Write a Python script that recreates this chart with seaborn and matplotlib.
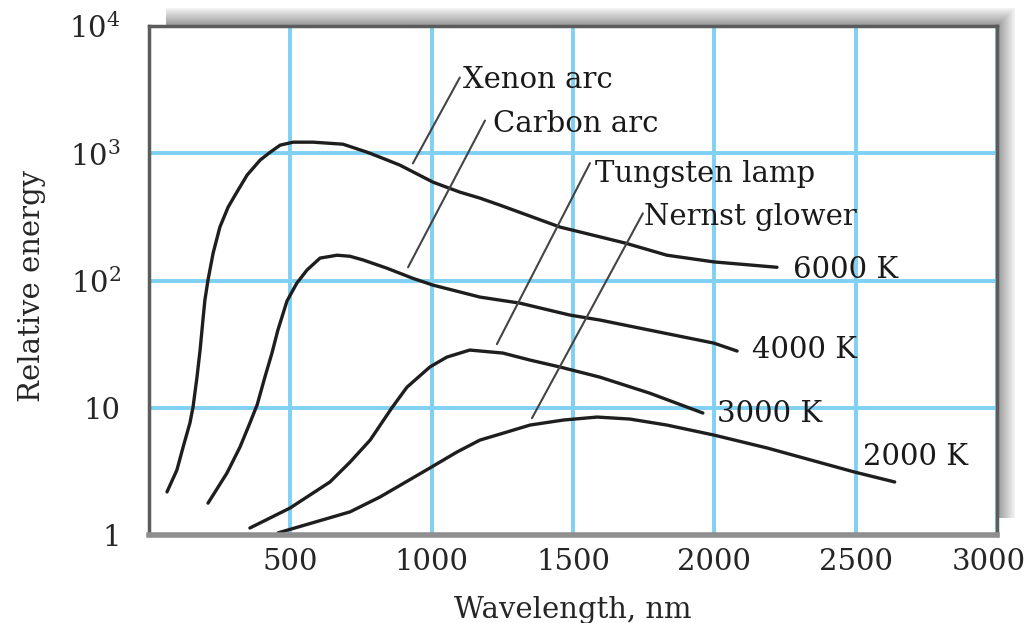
import numpy as np
import pandas as pd
import matplotlib
matplotlib.use("Agg")
import matplotlib.pyplot as plt
from matplotlib.patches import Rectangle
from matplotlib.ticker import FixedLocator, NullLocator
from matplotlib.transforms import ScaledTranslation
import seaborn as sns

# =========================
# DATA
# =========================
xenon_x = [65, 100, 122, 146, 157, 171, 182, 192, 199, 210, 228, 252, 281, 312, 348, 394, 430,
           465, 511, 581, 687, 772, 818, 888, 1005, 1100, 1171, 1242, 1454, 1684, 1832, 1998, 2221]
xenon_y = [2.18, 3.24, 4.91, 7.58, 10.1, 17.4, 28.4, 48.9, 70.2, 101, 164, 263, 377, 495, 673, 883, 1020,
           1158, 1222, 1222, 1178, 1020, 931, 807, 593, 495, 444, 391, 263, 197, 158, 140, 127]

carbon_x = [210, 277, 323, 358, 384, 411, 436, 457, 489, 524, 560, 606, 666, 712, 758, 842,
            934, 1005, 1171, 1312, 1489, 1595, 1701, 1998, 2080]
carbon_y = [1.78, 3.07, 4.91, 7.58, 10.6, 17.4, 26.9, 40.8, 68.9, 95.4, 121, 150, 158, 155, 145, 125,
            104, 92, 74.1, 66.4, 53.5, 48.9, 43.8, 32.2, 27.9]

tungsten_x = [358, 500, 641, 712, 783, 860, 913, 994, 1054, 1135, 1252, 1348, 1454, 1595, 1772, 1959]
tungsten_y = [1.135, 1.63, 2.61, 3.74, 5.57, 10.0, 14.5, 20.9, 25.0, 28.4, 26.9, 23.7, 20.9, 17.4, 13.0, 9.09]

nernst_x = [458, 712, 818, 994, 1090, 1171, 1266, 1348, 1465, 1585, 1701, 1832, 1998, 2186, 2496, 2637]
nernst_y = [1.04, 1.52, 1.99, 3.36, 4.49, 5.57, 6.44, 7.31, 8.00, 8.45, 8.15, 7.31, 6.10, 4.83, 3.12, 2.61]

x_ticks = [500, 1000, 1500, 2000, 2500, 3000]
x_tick_labels = ["500", "1000", "1500", "2000", "2500", "3000"]
y_ticks = [1, 10, 100, 1000, 10000]
y_tick_labels = ["1", "10", "$10^2$", "$10^3$", "$10^4$"]

# =========================
# STYLE
# =========================
sns.set_style("white")
plt.rcParams["font.family"] = ["DejaVu Serif"]
plt.rcParams["mathtext.fontset"] = "dejavuserif"

W, H = 1029, 623
fig = plt.figure(figsize=(W / 100, H / 100), dpi=100)
left, right, top, bottom = 148.6, 997.4, 26, 535
ax = fig.add_axes([left / W, 1 - bottom / H, (right - left) / W, (bottom - top) / H])

# drop shadow behind the frame (top and right)
for i, s in enumerate(range(18, 0, -1)):
    g = 0.95 - 0.36 * i / 17
    fig.add_artist(Rectangle((166 / W, 1 - 518 / H), (right + s - 166) / W, (518 - (top - s)) / H,
                             transform=fig.transFigure, facecolor=(g, g, g), edgecolor="none", zorder=-5))

# =========================
# CURVES
# =========================
curve_kw = dict(color="#1e1e1e", linewidth=2.4, sort=False, estimator=None, ax=ax,
                solid_joinstyle="round", solid_capstyle="round")
sns.lineplot(x=xenon_x, y=xenon_y, **curve_kw)
sns.lineplot(x=carbon_x, y=carbon_y, **curve_kw)
sns.lineplot(x=tungsten_x, y=tungsten_y, **curve_kw)
sns.lineplot(x=nernst_x, y=nernst_y, **curve_kw)

ax.set_yscale("log")
ax.set_xlim(0, 3000)
ax.set_ylim(1, 10000)
ax.xaxis.set_major_locator(FixedLocator(x_ticks))
ax.set_xticklabels(x_tick_labels)
ax.yaxis.set_major_locator(FixedLocator(y_ticks))
ax.yaxis.set_minor_locator(NullLocator())
ax.set_yticklabels(y_tick_labels)
ax.tick_params(axis="both", length=0, labelsize=21)
ax.tick_params(axis="y", pad=20)
ax.tick_params(axis="x", pad=9)

# keep the last x label inside the canvas
last = ax.get_xticklabels()[-1]
last.set_transform(last.get_transform() + ScaledTranslation(-9 / 100, 0, fig.dpi_scale_trans))

ax.grid(True, color="#7fd0f2", linewidth=2.8)
ax.set_axisbelow(True)

for side in ["top", "right", "left"]:
    ax.spines[side].set_color("#5c5c5c")
    ax.spines[side].set_linewidth(2.5)
ax.spines["bottom"].set_color("#8f8f8f")
ax.spines["bottom"].set_linewidth(4)

ax.set_xlabel("Wavelength, nm", fontsize=21, va="baseline")
ax.xaxis.set_label_coords(0.5, -0.163)
ax.set_ylabel("Relative energy", fontsize=21, va="center")
ax.yaxis.set_label_coords(-0.137, 0.49)

# =========================
# LEADERS AND LABELS
# =========================
lead = dict(arrowstyle="-", color="#444444", lw=1.5, shrinkA=0, shrinkB=0)
ax.annotate("", xy=(934, 832), xytext=(1100, 3936), arrowprops=lead)
ax.annotate("", xy=(917, 127), xytext=(1189, 1808), arrowprops=lead)
ax.annotate("", xy=(1231, 31.6), xytext=(1560, 836), arrowprops=lead)
ax.annotate("", xy=(1355, 8.28), xytext=(1747, 337), arrowprops=lead)

txt = dict(fontsize=21, ha="left", va="baseline", color="#1a1a1a")
ax.text(1111, 3246, "Xenon arc", **txt)
ax.text(1217, 1465, "Carbon arc", **txt)
ax.text(1578, 593, "Tungsten lamp", **txt)
ax.text(1752, 272, "Nernst glower", **txt)
ax.text(2277, 104.4, "6000 K", **txt)
ax.text(2132, 24.6, "4000 K", **txt)
ax.text(2009, 7.72, "3000 K", **txt)
ax.text(2524, 3.55, "2000 K", **txt)

fig.savefig("out.png", dpi=100)
